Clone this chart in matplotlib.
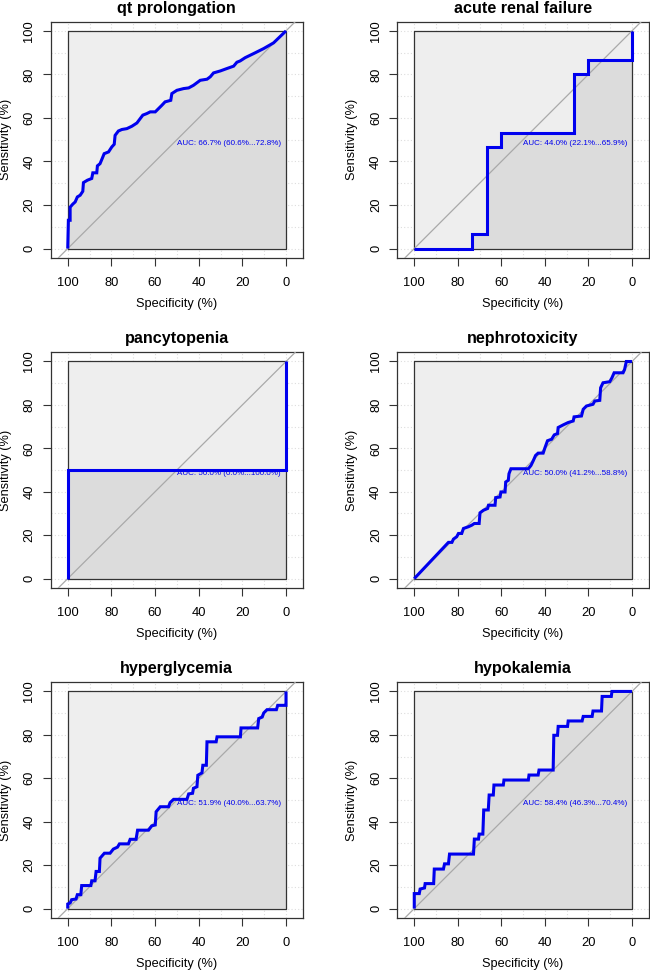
import numpy as np
import matplotlib
matplotlib.use("Agg")
import matplotlib.pyplot as plt

plt.rcParams['font.family'] = ['Liberation Sans', 'DejaVu Sans']

# ROC curves (specificity %, sensitivity %)
spec_qt = [100, 99.7, 98.9, 98.9, 97.7, 96.6, 95.6, 94.3, 93.1, 92.8, 91, 89, 88.5, 86.7, 86.4,
           85.2, 84.4, 83.3, 81.3, 79.8, 78.7, 78.3, 76.8, 75.2, 72.9, 70.6, 68.3, 66.8, 65.6,
           63.8, 62.2, 59.9, 58.4, 56.9, 55.4, 52.8, 52.3, 50, 46.9, 44.6, 42.4, 39.3, 36.2,
           34.7, 33.2, 30.1, 27.1, 24, 22.5, 21, 18.7, 14.8, 10.2, 5.7, 0]
sens_qt = [0, 13, 13, 19, 20.4, 21.4, 23.7, 24.5, 26.3, 30.3, 31.4, 32.2, 34.8, 34.8, 38,
           39, 40.9, 43.6, 44.4, 46.7, 47.9, 52, 54, 54.7, 55.1, 56.2, 57.7, 59.7, 61.3,
           62, 62.8, 62.8, 64.3, 65.8, 67.4, 68.1, 71.2, 72.7, 73.5, 73.8, 75, 77.3, 77.8,
           78.9, 80.7, 81.6, 82.7, 83.8, 85.6, 86.2, 87.7, 89.6, 91.9, 94.5, 100]

spec_arf = [100, 73.3, 73.3, 66.7, 66.7, 60, 60, 26.7, 26.7, 20, 20, 0, 0]
sens_arf = [0, 0, 6.7, 6.7, 46.7, 46.7, 53.3, 53.3, 80, 80, 86.7, 86.7, 100]

spec_pan = [100, 100, 0, 0]
sens_pan = [0, 50, 50, 100]

spec_nep = [100, 84.3, 82.7, 82, 80.5, 79.7, 78.2, 77.4, 75.1, 73.6, 72.4, 70.2, 69.8, 68.2,
            66.3, 65.9, 62.9, 62.6, 60.6, 60.2, 58.3, 58, 56.8, 56.5, 55.6, 47.6, 46.4, 45.3,
            44.3, 43.1, 40.8, 40, 38.8, 36.9, 35.7, 34.2, 33.9, 31.6, 29.3, 27, 26.6, 23.2,
            22.4, 20.9, 17.9, 17.1, 14.8, 14.4, 13.3, 10.2, 9.2, 8.2, 4.1, 3.4, 2.6, 0]
sens_nep = [0, 16.7, 16.7, 18.2, 19.3, 20.8, 20.8, 23.1, 23.9, 24.6, 25.4, 25.4, 30.3, 31.5,
            32.3, 33.8, 33.8, 37.3, 37.6, 39.9, 39.9, 44.5, 45.3, 48.3, 50.6, 50.6, 52.1, 54.4,
            56.7, 57.8, 57.8, 60.2, 63.5, 64.2, 66.2, 66.8, 69.6, 70.8, 71.9, 72.6, 74.5, 74.9,
            78, 79.5, 80.3, 81.8, 82.1, 87.9, 90.2, 90.7, 92.5, 94.8, 94.8, 96.3, 100, 100]

spec_hyg = [100, 100, 98.9, 98.2, 96.2, 95.6, 94, 93.6, 89.4, 89, 87.5, 87, 85.5, 85.2, 83.2,
            80.6, 79.1, 77.2, 76.3, 72.2, 71.4, 68.7, 68, 63, 61.5, 59.9, 59.5, 57.6, 53.8,
            53.1, 51.5, 45.4, 44.6, 42.8, 42.4, 40.8, 40.4, 38.5, 38.1, 36.5, 36.2, 32, 31.6,
            20.9, 20.6, 13, 12.5, 10.9, 10.2, 8.7, 4.4, 3.8, 0.3, 0, 0]
sens_hyg = [0, 2.1, 2.6, 4.1, 4.4, 6.4, 6.4, 10.6, 10.6, 12.8, 12.8, 17.1, 17.1, 23.2, 25.5,
            25.5, 27.4, 28.3, 29.8, 29.8, 31.9, 31.9, 36.1, 36.1, 38.1, 38.5, 44.6, 46.9, 46.9,
            48.8, 50.3, 50.3, 52.8, 53.1, 55.4, 56.1, 61.4, 62.5, 66, 66, 76.8, 76.8, 79.1,
            79.1, 83.2, 83.2, 87.5, 88.2, 90.1, 91.6, 91.6, 93.6, 93.6, 93.6, 100]

spec_hyk = [100, 100, 97.7, 97.3, 95.3, 95, 91.1, 90.8, 86.6, 86.1, 84.3, 83.8, 72.8, 72.4,
            70.5, 70.2, 68.5, 68.1, 66, 65.6, 63.7, 63.4, 59.1, 58.8, 47.6, 47.3, 43.1, 42.7,
            36.2, 35.9, 34.2, 33.9, 29.6, 29.3, 22.9, 22.4, 18.3, 17.9, 14, 13.7, 9.5, 9.2, 0]
sens_hyk = [0, 6.9, 6.9, 9, 9.5, 11.5, 11.5, 18.2, 18.2, 20.6, 20.6, 25.1, 25.1, 32,
            32, 34.3, 34.3, 45.4, 45.4, 52.3, 52.3, 56.9, 56.9, 59.2, 59.2, 61.5, 61.5, 63.8,
            63.8, 79.8, 79.8, 83.9, 83.9, 86.4, 86.4, 88.5, 88.5, 91, 91, 97.7, 97.7, 100, 100]

titles = ["qt prolongation", "acute renal failure", "pancytopenia",
          "nephrotoxicity", "hyperglycemia", "hypokalemia"]
auc_labels = ["AUC: 66.7% (60.6%...72.8%)", "AUC: 44.0% (22.1%...65.9%)",
              "AUC: 50.0% (0.0%...100.0%)", "AUC: 50.0% (41.2%...58.8%)",
              "AUC: 51.9% (40.0%...63.7%)", "AUC: 58.4% (46.3%...70.4%)"]
specs = [spec_qt, spec_arf, spec_pan, spec_nep, spec_hyg, spec_hyk]
senss = [sens_qt, sens_arf, sens_pan, sens_nep, sens_hyg, sens_hyk]
ticks = [0, 20, 40, 60, 80, 100]


def roc_panel(ax, spec, sens, title, label):
    spec = np.asarray(spec, float)
    sens = np.asarray(sens, float)
    ax.set_xlim(107.8, -7.8)
    ax.set_ylim(-4.2, 104.2)

    # dotted grid every 10 %
    for g in range(0, 101, 10):
        ax.axvline(g, color="#DDDDDD", lw=0.8, ls=(0, (1, 2)), zorder=0)
        ax.axhline(g, color="#DDDDDD", lw=0.8, ls=(0, (1, 2)), zorder=0)

    # max auc square + auc polygon
    ax.fill([100, 0, 0, 100], [0, 0, 100, 100], color="#EEEEEE", lw=0, zorder=1)
    ax.fill(np.r_[spec, 0], np.r_[sens, 0], color="gainsboro", lw=0, zorder=2)
    ax.plot([100, 0, 0, 100, 100], [0, 0, 100, 100, 0], color="#333333", lw=0.9, zorder=3)

    # identity line across the whole plot region
    ax.axline((100, 0), (0, 100), color="darkgrey", lw=0.9, zorder=4)
    ax.plot(spec, sens, color="#0000EE", lw=2.2, zorder=5,
            solid_joinstyle="miter", solid_capstyle="butt")
    ax.text(50, 50, label, color="#0000EE", fontsize=5.8, ha="left", va="top", zorder=6)

    ax.set_xticks([100, 80, 60, 40, 20, 0])
    ax.set_yticks(ticks)
    ax.tick_params(direction="out", length=6, width=0.8, color="#333333", labelsize=9.3)
    ax.tick_params(axis="x", pad=8)
    ax.tick_params(axis="y", pad=5)
    for t in ax.get_yticklabels():
        t.set_rotation(90)
        t.set_va("center")
    for s in ax.spines.values():
        s.set_color("#333333")
        s.set_linewidth(0.9)

    ax.set_title(title, fontsize=11.6, fontweight="bold", pad=6.5)
    ax.set_xlabel("Specificity (%)", fontsize=9.2, va="center")
    ax.set_ylabel("Sensitivity (%)", fontsize=9.2, va="center")
    ax.xaxis.set_label_coords(0.5, -46 / 236)
    ax.yaxis.set_label_coords(-45 / 252, 0.5)


fig = plt.figure(figsize=(6.5, 9.71), dpi=100)
lefts = [0.078, 0.6112]
widths = [0.3882, 0.3872]
bottoms = [0.7346, 0.3947, 0.0549]
heights = [0.2430, 0.2424, 0.2424]

for i in range(6):
    r, c = divmod(i, 2)
    ax = fig.add_axes([lefts[c], bottoms[r], widths[c], heights[r]])
    roc_panel(ax, specs[i], senss[i], titles[i], auc_labels[i])

fig.savefig("out.png", dpi=100)
